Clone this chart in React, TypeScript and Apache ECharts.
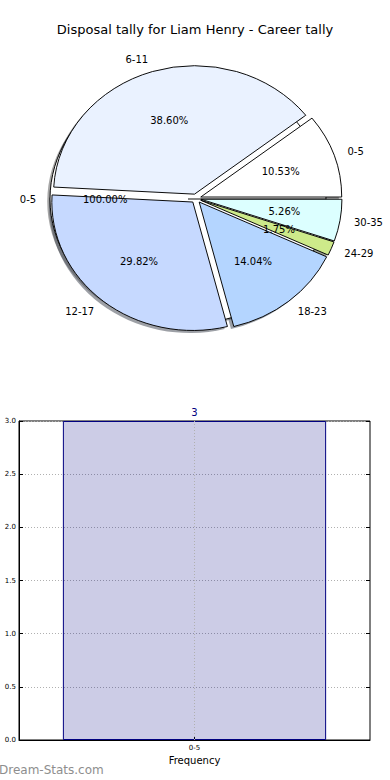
import React, { useEffect, useRef } from 'react';
import * as echarts from 'echarts';

const chartTitle = 'Disposal tally for Liam Henry - Career tally';
const pieCategories = ['0-5', '6-11', '12-17', '18-23', '24-29', '30-35'];
const pieValues = [6, 22, 17, 8, 1, 3];
const backPieCategories = ['0-5'];
const backPieValues = [3];
const barCategories = ['0-5'];
const barValues = [3];
const xAxisName = 'Frequency';
const watermark = 'Dream-Stats.com';

const pieColors = ['#ffffff', '#eaf2ff', '#c6d9ff', '#b4d5ff', '#cdea8a', '#dcffff'];
const backPieColors = ['#ffffff'];

const FONT = 'DejaVu Sans';

type Geom = { cx: number; cy: number; rx: number; ry: number; explode: number };
const frontGeom: Geom = { cx: 196, cy: 198.5, rx: 141, ry: 128.5, explode: 5 };
const backGeom: Geom = { cx: 188, cy: 199, rx: 138, ry: 125, explode: 0 };

type Slice = { s: number; e: number; m: number; pct: number };
function layout(values: number[]): Slice[] {
  const total = values.reduce((a, b) => a + b, 0);
  let acc = 0;
  return values.map((v) => {
    const s = (acc / total) * 2 * Math.PI;
    acc += v;
    const e = (acc / total) * 2 * Math.PI;
    return { s, e, m: (s + e) / 2, pct: (v / total) * 100 };
  });
}

function darken(hex: string, f: number) {
  const n = parseInt(hex.slice(1), 16);
  const r = Math.round(((n >> 16) & 255) * f);
  const g = Math.round(((n >> 8) & 255) * f);
  const b = Math.round((n & 255) * f);
  return `rgb(${r},${g},${b})`;
}

function wedge(g: Geom, sl: Slice, style: any, dx = 0, dy = 0) {
  const k = g.ry / g.rx;
  const ex = g.explode * Math.cos(sl.m);
  const ey = -g.explode * Math.sin(sl.m);
  const children: any[] = [
    {
      type: 'sector',
      shape: { cx: ex, cy: ey, r: g.rx, r0: 0, startAngle: -sl.e, endAngle: -sl.s, clockwise: true },
      style,
    },
  ];
  if (sl.e - sl.s > 2 * Math.PI - 1e-6 && style.stroke) {
    children.push({
      type: 'line',
      shape: { x1: ex, y1: ey, x2: ex + g.rx * Math.cos(sl.s), y2: ey - g.rx * Math.sin(sl.s) },
      style: { stroke: style.stroke, lineWidth: 1 },
    });
  }
  return { type: 'group', x: g.cx + dx, y: g.cy + dy, scaleY: k, children };
}

function labelEls(g: Geom, sl: Slice, name: string) {
  const k = g.ry / g.rx;
  const ox = g.cx + g.explode * Math.cos(sl.m);
  const oy = g.cy - g.explode * k * Math.sin(sl.m);
  const c = Math.cos(sl.m);
  const s = Math.sin(sl.m);
  const lx = ox + 1.1 * g.rx * c;
  const ly = oy - 1.1 * g.ry * s;
  const px = ox + 0.6 * g.rx * c;
  const py = oy - 0.6 * g.ry * s;
  const al = lx - g.cx > 0 ? 'left' : 'right';
  return {
    type: 'group',
    children: [
      {
        type: 'text',
        x: lx,
        y: ly,
        style: { text: name, fill: '#000', fontSize: 10, fontFamily: FONT, align: al, verticalAlign: 'middle', textAlign: al, textVerticalAlign: 'middle' },
      },
      {
        type: 'text',
        x: px,
        y: py,
        style: { text: sl.pct.toFixed(2) + '%', fill: '#000', fontSize: 10, fontFamily: FONT, align: 'center', verticalAlign: 'middle', textAlign: 'center', textVerticalAlign: 'middle' },
      },
    ],
  };
}

function pieSeries(id: string, cats: string[], values: number[], colors: string[], g: Geom, zBase: number) {
  const sl = layout(values);
  const data = values.map((v, i) => ({ name: cats[i], value: v }));
  const sdx = -0.02 * g.rx;
  const sdy = 0.02 * g.ry;
  return [
    {
      id: id + '-shadow',
      type: 'custom',
      coordinateSystem: 'none',
      silent: true,
      z: 1,
      data,
      renderItem: (p: any) =>
        wedge(g, sl[p.dataIndex], { fill: darken(colors[p.dataIndex], 0.3), opacity: 0.5 }, sdx, sdy),
    },
    {
      id: id + '-wedges',
      type: 'custom',
      coordinateSystem: 'none',
      silent: true,
      z: zBase,
      data,
      renderItem: (p: any) =>
        wedge(g, sl[p.dataIndex], { fill: colors[p.dataIndex], stroke: '#000', lineWidth: 1 }),
    },
    {
      id: id + '-labels',
      type: 'custom',
      coordinateSystem: 'none',
      silent: true,
      z: 10,
      data,
      renderItem: (p: any) => labelEls(g, sl[p.dataIndex], cats[p.dataIndex]),
    },
  ];
}

export default function App() {
  const ref = useRef<HTMLDivElement>(null);
  useEffect(() => {
    document.body.style.margin = '0';
    if (!ref.current) return;
    const chart = echarts.init(ref.current, undefined, { renderer: 'svg' });
    const gridLine = { color: '#b0b0b0', type: [1, 2], width: 1 };
    chart.setOption({
      animation: false,
      title: {
        text: chartTitle,
        left: 'center',
        top: 23,
        padding: 0,
        textStyle: { fontFamily: FONT, fontSize: 13, fontWeight: 'normal', color: '#000' },
      },
      grid: { left: 19, right: 20, top: 421, bottom: 40, show: true, borderColor: '#000', borderWidth: 1, backgroundColor: 'transparent' },
      xAxis: [
        {
          type: 'category',
          data: barCategories,
          name: xAxisName,
          nameLocation: 'middle',
          nameGap: 15,
          nameTextStyle: { fontFamily: FONT, fontSize: 10, color: '#000' },
          axisLine: { show: true, lineStyle: { color: '#000' } },
          axisTick: { show: true, inside: true, alignWithLabel: true, length: 4, lineStyle: { color: '#000' } },
          axisLabel: { fontFamily: FONT, fontSize: 7, color: '#000', margin: 4 },
          splitLine: { show: false },
        },
      ],
      yAxis: [
        {
          type: 'value',
          min: 0,
          max: 3,
          interval: 0.5,
          axisLine: { show: true, lineStyle: { color: '#000' } },
          axisTick: { show: true, inside: true, length: 4, lineStyle: { color: '#000' } },
          axisLabel: { fontFamily: FONT, fontSize: 7, color: '#000', margin: 3, formatter: (v: number) => v.toFixed(1) },
          splitLine: { show: true, lineStyle: gridLine },
        },
        {
          type: 'value',
          position: 'right',
          min: 0,
          max: 3,
          interval: 0.5,
          axisLine: { show: false },
          axisTick: { show: true, inside: true, length: 4, lineStyle: { color: '#000' } },
          axisLabel: { show: false },
          splitLine: { show: false },
        },
      ],
      graphic: [
        {
          type: 'text',
          left: -1,
          top: 764,
          style: { text: watermark, fill: '#8e8e8e', fontSize: 12, fontFamily: FONT },
        },
      ],
      series: [
        ...pieSeries('back', backPieCategories, backPieValues, backPieColors, backGeom, 2),
        ...pieSeries('front', pieCategories, pieValues, pieColors, frontGeom, 3),
        {
          type: 'bar',
          xAxisIndex: 0,
          yAxisIndex: 0,
          data: barValues,
          barWidth: '75%',
          silent: true,
          itemStyle: { color: 'rgba(0,0,128,0.2)', borderColor: '#000080', borderWidth: 1 },
          label: { show: true, position: 'top', distance: 4, color: '#000080', fontFamily: FONT, fontSize: 10 },
          markLine: {
            silent: true,
            symbol: 'none',
            label: { show: false },
            lineStyle: gridLine,
            data: [{ xAxis: 0 }],
          },
        },
      ],
    });
    return () => chart.dispose();
  }, []);
  return <div ref={ref} style={{ width: 390, height: 780, position: 'absolute', left: 0, top: 0 }} />;
}
